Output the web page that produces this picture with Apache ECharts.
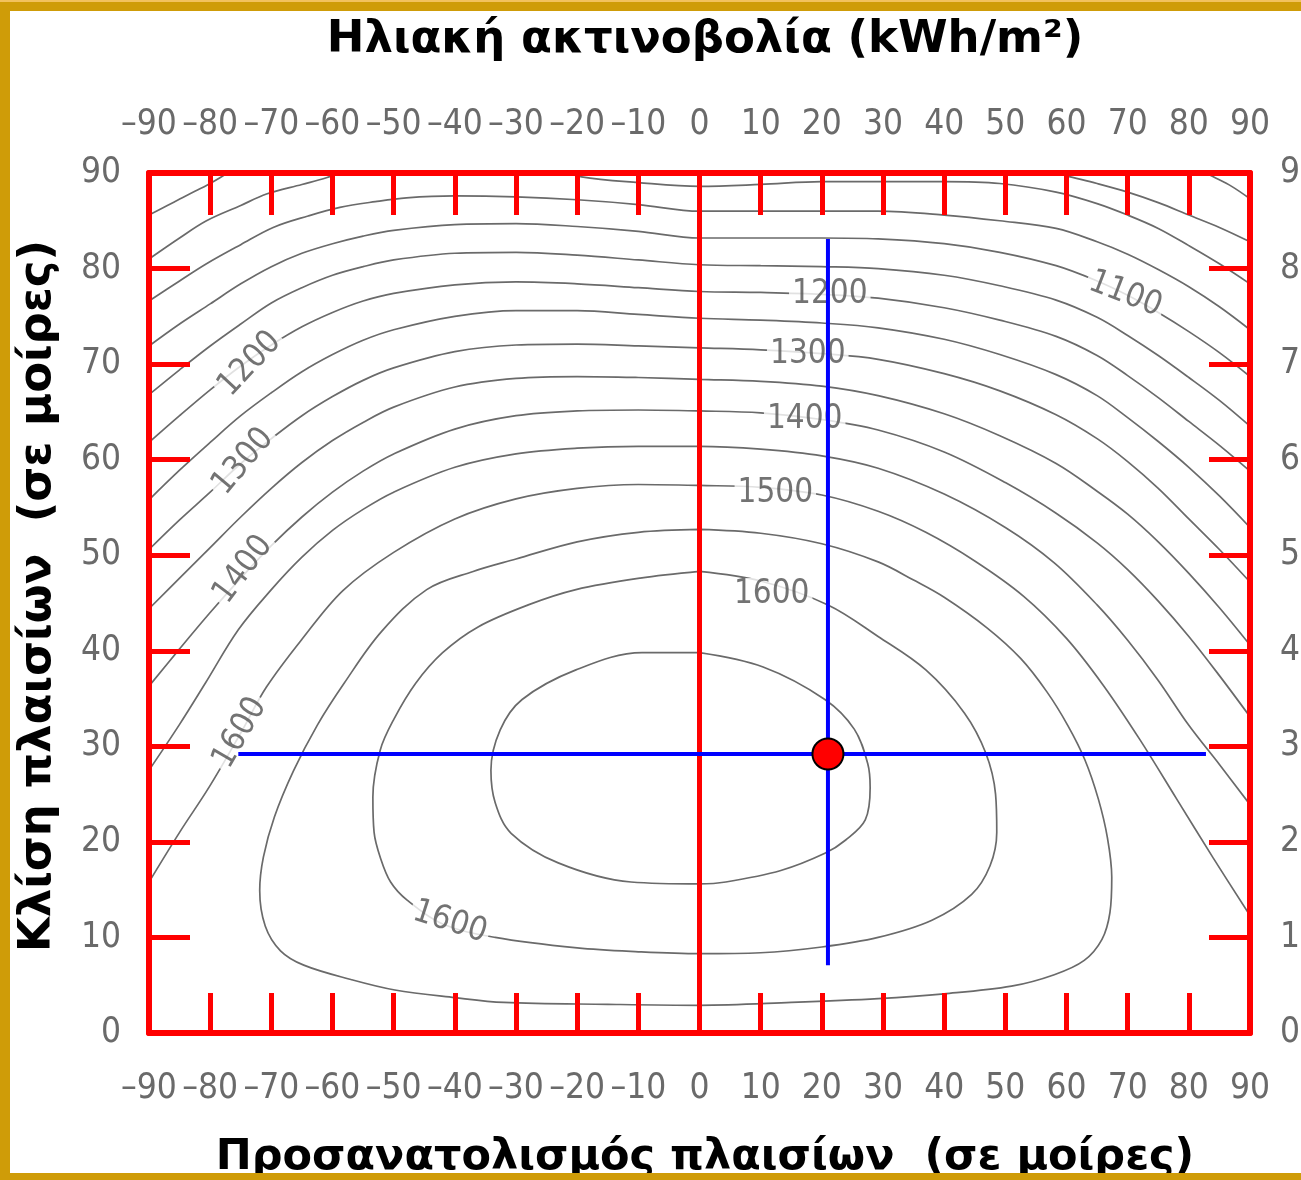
<!DOCTYPE html>
<html>
<head>
<meta charset="utf-8">
<script src="https://cdn.jsdelivr.net/npm/echarts@6.0.0/dist/echarts.min.js"></script>
<style>
html,body{margin:0;padding:0;background:#fff;}
#chart{width:1301px;height:1180px;}
</style>
</head>
<body>
<div id="chart"></div>
<script>
// ---------------- DATA ----------------
const titleText = 'Ηλιακή ακτινοβολία (kWh/m²)';
const xTitleText = 'Προσανατολισμός πλαισίων  (σε μοίρες)';
const yTitleText = 'Κλίση πλαισίων  (σε μοίρες)';

const xTickValues = [-90,-80,-70,-60,-50,-40,-30,-20,-10,0,10,20,30,40,50,60,70,80,90];
const yTickValues = [0,10,20,30,40,50,60,70,80,90];

// contour lines [orientation, tilt]
const c900L = [[-90,85.6],[-87,86.6],[-84.9,87.3],[-82.5,88.1],[-80.6,88.7],[-78.4,89.5],[-76.5,90.3]];
const c900R = [[81.5,90.4],[84,89.6],[87,88.6],[90,87.3]];
const c950L = [[-90,81.0],[-85,83.2],[-80.6,85.0],[-75,86.6],[-70.8,87.8],[-65,88.8],[-61,89.5],[-58,90.3]];
const c950R = [[56,90.4],[60,89.7],[65,88.9],[70,88.0],[75,86.9],[80,85.6],[85,84.3],[90,82.8]];
const c1000 = [[-23,90.4],[-19.3,89.6],[-10,89.0],[0,88.6],[10,88.8],[20,89.1],[29.2,89.1],[40,89.1],[49.1,88.9],[58.3,88.0],[65,86.8],[70,85.6],[75,84.2],[80,82.4],[85,80.5],[90,78.4]];
const c1050 = [[-90,76.6],[-85,78.7],[-80.6,80.5],[-75,82.5],[-69.7,84.3],[-64,85.5],[-58.8,86.4],[-53,87.0],[-47.9,87.4],[-40,87.6],[-30,87.5],[-20,87.2],[-10,86.7],[0,86.0],[10,86.0],[20,86.0],[29.2,86.0],[40,85.6],[49.1,85.0],[58.3,84.2],[65,82.8],[70,81.5],[75,79.9],[80,78.1],[85,76.0],[90,73.6]];
const c1100 = [[-90,71.9],[-85,74.2],[-80,76.3],[-75,78.4],[-70,80.2],[-65,81.6],[-60,82.6],[-55,83.4],[-50,84.0],[-40,84.6],[-30,84.7],[-20,84.4],[-10,83.9],[0,83.2],[10,83.2],[20,83.2],[29.2,83.1],[40,82.6],[49.1,81.7],[58.3,80.3],[65,78.7],[70,77.2],[75,75.4],[80,73.4],[85,71.2],[90,68.7]];
const c1150 = [[-90,66.8],[-85,69.4],[-80,71.9],[-75,74.2],[-70,76.4],[-65,78.0],[-60,79.3],[-55,80.2],[-50,80.9],[-40,81.6],[-30,81.7],[-20,81.4],[-10,80.9],[0,80.4],[10,80.3],[20,80.2],[29.2,80.0],[40,79.3],[49.1,78.2],[58.3,76.7],[65,74.9],[70,73.0],[75,70.9],[80,68.6],[85,66.2],[90,63.5]];
const c1200 = [[-90,61.8],[-85,64.6],[-80,67.3],[-75,69.8],[-70,72.0],[-65,73.9],[-60,75.4],[-55,76.6],[-50,77.4],[-40,78.3],[-30,78.6],[-20,78.4],[-10,78.0],[0,77.6],[10,77.5],[20,77.3],[29.2,76.9],[40,75.9],[49.1,74.6],[58.3,72.9],[65,70.9],[70,68.8],[75,66.5],[80,64.0],[85,61.5],[90,58.8]];
const c1250 = [[-90,55.8],[-85,58.9],[-80,61.8],[-75,64.6],[-70,67.0],[-65,69.2],[-60,71.0],[-55,72.5],[-50,73.6],[-40,75.0],[-30,75.6],[-20,75.6],[-10,75.2],[0,74.8],[10,74.6],[20,74.3],[29.2,73.8],[40,72.6],[49.1,71.0],[58.3,68.9],[65,66.7],[70,64.4],[75,61.9],[80,59.2],[85,56.2],[90,52.9]];
const c1300 = [[-90,50.6],[-85,53.7],[-80,56.6],[-75,59.6],[-70,62.2],[-65,64.6],[-60,66.6],[-55,68.3],[-50,69.6],[-40,71.3],[-30,72.0],[-20,72.1],[-10,71.9],[0,71.7],[10,71.5],[20,71.1],[29.2,70.5],[40,69.0],[49.1,67.2],[58.3,64.7],[65,62.2],[70,59.8],[75,57.0],[80,53.8],[85,50.6],[90,47.2]];
const c1350 = [[-90,44.4],[-85,47.6],[-80,50.8],[-75,54.0],[-70,57.0],[-65,59.7],[-60,62.0],[-55,63.9],[-50,65.5],[-40,67.6],[-30,68.5],[-20,68.7],[-10,68.6],[0,68.4],[10,68.2],[20,67.7],[29.2,66.7],[40,64.8],[49.1,62.5],[58.3,59.6],[65,56.7],[70,54.3],[75,51.4],[80,48.1],[85,44.5],[90,40.6]];
const c1400 = [[-90,36.3],[-85,40.2],[-80,44.0],[-75,47.6],[-70,51.0],[-65,54.0],[-60,56.6],[-55,58.8],[-50,60.6],[-40,63.2],[-30,64.6],[-20,65.1],[-10,65.2],[0,65.1],[10,64.9],[20,64.2],[29.2,63.1],[40,60.8],[50,57.6],[58.3,54.4],[65,51.3],[70,48.5],[75,45.2],[80,41.5],[85,37.4],[90,33.1]];
const c1450 = [[-90,27.5],[-85,32.3],[-80.8,36.6],[-75.4,42.2],[-70,46.4],[-65,49.8],[-60,52.6],[-55,54.8],[-50,56.6],[-40,59.2],[-30,60.6],[-20,61.2],[-10,61.4],[0,61.4],[10,61.1],[20,60.4],[29.2,59.1],[40,56.4],[50,52.9],[58,49.2],[65,44.8],[70,41.1],[75,36.9],[80,32.2],[85,28.1],[90,23.9]];
const c1500 = [[-90,15.8],[-85,21.0],[-80.2,25.7],[-75,31.4],[-70.8,36.2],[-65,41.2],[-58.3,46.3],[-50,50.3],[-40,53.8],[-30,55.9],[-20,57.0],[-10,57.4],[0,57.3],[10,57.1],[20,56.3],[29.2,54.6],[37,52.4],[45,49.4],[53,45.7],[60,41.3],[66,36.4],[72,30.7],[78,24.5],[84,18.3],[90,12.3]];
const c1550 = [[0,52.7],[-10,52.4],[-20,51.4],[-30,49.6],[-37,48.3],[-44.6,46.4],[-52,42.0],[-58.1,36.6],[-62.5,32.2],[-66.4,27.4],[-69.5,22.6],[-71.3,18.4],[-71.9,14.9],[-71.0,11.2],[-68.5,8.6],[-64.7,7.1],[-57,5.6],[-49.8,4.5],[-40,3.7],[-32.0,3.2],[-15,3.0],[0,2.9],[15,3.2],[29.2,3.6],[40,4.1],[51,4.9],[58,6.1],[62.9,7.6],[65.8,9.8],[67.1,12.6],[67.4,16.3],[66.7,20.4],[65.2,24.5],[63.0,28.6],[60.2,32.2],[56.8,35.7],[52.5,39.2],[47,42.4],[40,45.6],[35,47.4],[29.2,49.3],[20,51.2],[10,52.3],[0,52.7]];
const c1600 = [[0,48.3],[-9.7,47.6],[-20.2,46.4],[-28,44.8],[-36.2,42.5],[-42,39.8],[-46.4,36.6],[-50,32.8],[-52.2,29.6],[-53.4,24.7],[-53.2,21],[-52.2,18.4],[-50.5,15.8],[-47.8,13.9],[-42,11.4],[-33.4,10.0],[-20,8.9],[-10,8.5],[0,8.3],[10,8.4],[20,9.0],[29.2,10.0],[38,11.8],[44.5,14.5],[47.5,17.5],[48.6,21.0],[48.4,25.0],[46.8,29.3],[43.3,33.5],[37,38.0],[29.2,41.5],[21,44.8],[10,47.3],[0,48.3]];
const c1650 = [[0,39.8],[10.4,38.3],[20.5,34.9],[25.3,31.8],[27.5,28.2],[27.9,25.7],[27.1,22.3],[23.9,20.2],[20.5,18.8],[13.3,17.0],[4.3,15.8],[0,15.6],[-11.2,15.8],[-23.1,17.8],[-30.8,20.9],[-33.4,24.1],[-34.1,27.5],[-32.6,31.7],[-29.0,34.9],[-20.2,38.0],[-9.4,39.8],[0,39.8]];

// contour label texts and their anchor points
const contourLabelText = ['1200','1300','1400','1500','1600','1100','1200','1300','1400','1600','1600'];
const contourLabelPos = [[21.3,77.3],[17.7,71.0],[17.2,64.2],[12.4,56.5],[11.8,45.9],[69.6,77.3],[-73.5,70.0],[-74.6,59.8],[-74.6,48.5],[-75.1,31.4],[-40.8,11.6]];

// reading guides and the selected point
const centerLine = [[0,0],[0,90]];
const guideH = [[-75.4,29.2],[82.8,29.2]];
const guideV = [[21,83.1],[21,7.1]];
const selectedPoint = [21,29.2];

// ---------------- STYLE / OPTION ----------------
const labelAngles = [0,0,0,0,0,-21,47,50,53,60,-18];
const narrow = "'DejaVu Sans Condensed','Liberation Sans Narrow','Liberation Sans',sans-serif";
const RED = '#ff0000';
const GOLD = '#cf9c08';

const contours = [c900L,c900R,c950L,c950R,c1000,c1050,c1100,c1150,c1200,c1250,c1300,c1350,c1400,c1450,c1500,c1550,c1600,c1650];

function axisCommon(pos, tickLen, margin){
  return {
    type:'value', position:pos, z:5,
    axisLine:{show:true, onZero:false, lineStyle:{color:RED, width:6}},
    axisTick:{show:true, inside:true, length:tickLen, lineStyle:{color:RED, width:5}},
    splitLine:{show:false},
    axisLabel:{show:true, margin:margin, showMinLabel:true, showMaxLabel:true, hideOverlap:false,
      fontFamily:narrow, fontSize:35, color:'#6a6a6a',
      formatter:v => v<0 ? '\u2013'+(-v) : String(v)}
  };
}
const xMin = xTickValues[0], xMax = xTickValues[xTickValues.length-1], xInt = xTickValues[1]-xTickValues[0];
const yMin = yTickValues[0], yMax = yTickValues[yTickValues.length-1], yInt = yTickValues[1]-yTickValues[0];

const xBottom = Object.assign(axisCommon('bottom',40,38), {min:xMin,max:xMax,interval:xInt});
const xTop = Object.assign(axisCommon('top',42,31), {min:xMin,max:xMax,interval:xInt});
const yLeft = Object.assign(axisCommon('left',41,28), {min:yMin,max:yMax,interval:yInt});
const yRight = Object.assign(axisCommon('right',41,30), {min:yMin,max:yMax,interval:yInt});

const series = [];
contours.forEach(d => {
  series.push({type:'line', data:d, xAxisIndex:0, yAxisIndex:0, symbol:'none', showSymbol:false,
    smooth:0.35, clip:true, silent:true, z:2,
    lineStyle:{color:'#6a6a6a', width:1.7}});
});
series.push({type:'scatter', xAxisIndex:0, yAxisIndex:0, symbolSize:2, silent:true, z:3,
  itemStyle:{color:'rgba(0,0,0,0)'},
  data: contourLabelPos.map((p,i)=>({value:[p[0],p[1],contourLabelText[i]], label:{rotate:labelAngles[i]}})),
  label:{show:true, position:'inside', formatter:p=>p.value[2], fontFamily:narrow, fontSize:33,
    color:'#505050', backgroundColor:'#ffffff', padding:[0,3], align:'center', verticalAlign:'middle'}
});
series.push({type:'line', data:centerLine, symbol:'none', silent:true, z:4, lineStyle:{color:RED, width:5}});
series.push({type:'line', data:guideH, symbol:'none', silent:true, z:6, lineStyle:{color:'#0000ff', width:4}});
series.push({type:'line', data:guideV, symbol:'none', silent:true, z:6, lineStyle:{color:'#0000ff', width:4}});
series.push({type:'scatter', data:[selectedPoint], symbolSize:31, silent:true, z:7,
  itemStyle:{color:RED, borderColor:'#000', borderWidth:2, opacity:1}});

const option = {
  animation:false,
  backgroundColor:'#ffffff',
  grid:{left:149, top:173, width:1101, height:860, containLabel:false, outerBoundsMode:'none'},
  xAxis:[xBottom, xTop],
  yAxis:[yLeft, yRight],
  series:series,
  graphic:[
    {type:'text', x:705, y:40, z:50, style:{text:titleText, font:'bold 45px "DejaVu Sans"', fill:'#000', align:'center', verticalAlign:'middle'}},
    {type:'text', x:705, y:1158, z:50, style:{text:xTitleText, font:'bold 43px "DejaVu Sans"', fill:'#000', align:'center', verticalAlign:'middle'}},
    {type:'text', x:38, y:596, rotation:Math.PI/2, z:50, style:{text:yTitleText, font:'bold 45px "DejaVu Sans"', fill:'#000', align:'center', verticalAlign:'middle'}},
    {type:'rect', z:100, shape:{x:0,y:0,width:1301,height:11}, style:{fill:GOLD}},
    {type:'rect', z:101, shape:{x:0,y:0,width:1301,height:2}, style:{fill:'#f2c25e'}},
    {type:'rect', z:100, shape:{x:0,y:0,width:10,height:1180}, style:{fill:GOLD}},
    {type:'rect', z:100, shape:{x:0,y:1173,width:1301,height:7}, style:{fill:GOLD}}
  ]
};
const chart = echarts.init(document.getElementById('chart'), null, {renderer:'canvas', width:1301, height:1180});
chart.setOption(option);
</script>
</body>
</html>
